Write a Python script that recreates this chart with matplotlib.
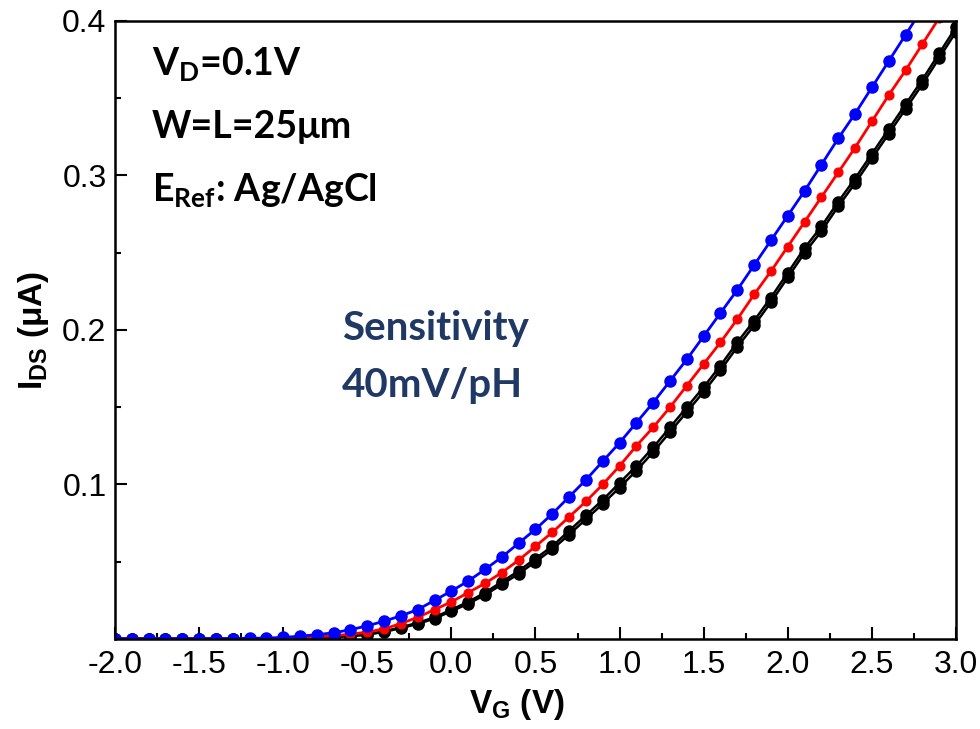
import matplotlib
matplotlib.use("Agg")
import matplotlib.pyplot as plt
import numpy as np

plt.rcParams['font.family'] = ['Liberation Sans', 'DejaVu Sans']
plt.rcParams['mathtext.fontset'] = 'custom'
plt.rcParams['mathtext.bf'] = 'Liberation Sans:bold'
plt.rcParams['mathtext.sf'] = 'Lato:bold'

# gate voltage, 0.1 V steps
vg = np.round(np.arange(-2.0, 3.01, 0.1), 2)

# drain current (uA)
i_blue = [0.0002] * 8 + [
    0.0004, 0.0006, 0.001, 0.0018, 0.0028, 0.004, 0.006, 0.0085, 0.0115, 0.015,
    0.019, 0.025, 0.031, 0.0375, 0.045, 0.053, 0.062, 0.071, 0.081, 0.092,
    0.103, 0.115, 0.127, 0.140, 0.153, 0.167, 0.181, 0.196, 0.211, 0.226,
    0.242, 0.258, 0.274, 0.290, 0.307, 0.324, 0.340, 0.357, 0.374, 0.391,
    0.408, 0.425, 0.442]
i_red = [0.0001] * 9 + [
    0.0003, 0.0005, 0.001, 0.0015, 0.0022, 0.003, 0.0045, 0.0065, 0.010, 0.014,
    0.019, 0.024, 0.030, 0.036, 0.043, 0.051, 0.060, 0.069, 0.079, 0.089,
    0.100, 0.112, 0.125, 0.137, 0.150, 0.164, 0.178, 0.192, 0.207, 0.223,
    0.238, 0.254, 0.270, 0.286, 0.302, 0.318, 0.335, 0.352, 0.368, 0.385,
    0.402, 0.419]
i_black1 = [0.0] * 10 + [
    0.0002, 0.0005, 0.001, 0.0015, 0.002, 0.003, 0.005, 0.0075, 0.0105, 0.014,
    0.019, 0.024, 0.030, 0.037, 0.044, 0.052, 0.060, 0.070, 0.080, 0.090,
    0.101, 0.112, 0.124, 0.137, 0.150, 0.163, 0.177, 0.192, 0.206, 0.221,
    0.237, 0.253, 0.267, 0.283, 0.298, 0.314, 0.330, 0.346, 0.362, 0.379,
    0.396]
i_black2 = [0.0] * 11 + [
    0.0003, 0.0008, 0.0013, 0.0018, 0.0028, 0.0046, 0.007, 0.0098, 0.0132, 0.018,
    0.0228, 0.0285, 0.0353, 0.0422, 0.050, 0.058, 0.0676, 0.0775, 0.0875, 0.098,
    0.109, 0.121, 0.134, 0.147, 0.160, 0.174, 0.189, 0.203, 0.218, 0.234,
    0.250, 0.264, 0.280, 0.295, 0.311, 0.327, 0.343, 0.359, 0.376, 0.393]

fig = plt.figure(figsize=(9.8, 7.29), dpi=100)
ax = fig.add_axes([0.1173, 0.1235, 0.8582, 0.8477])

ax.plot(vg, i_black2, color='black', lw=1.8, marker='o', ms=8)
ax.plot(vg, i_black1, color='black', lw=1.8, marker='o', ms=8)
ax.plot(vg, i_red, color='red', lw=2, marker='o', ms=6.3)
ax.plot(vg, i_blue, color='blue', lw=2, marker='o', ms=8)

ax.set_xlim(-2.0, 3.0)
ax.set_ylim(0, 0.4)
ax.set_xticks(np.arange(-2.0, 3.01, 0.5))
ax.set_xticks(np.arange(-2.0, 3.01, 0.25), minor=True)
ax.set_yticks([0.1, 0.2, 0.3, 0.4])
ax.set_yticks(np.arange(0.05, 0.41, 0.05), minor=True)
ax.set_xticklabels([f"{v:.1f}" for v in np.arange(-2.0, 3.01, 0.5)])
ax.set_yticklabels(["0.1", "0.2", "0.3", "0.4"])
ax.tick_params(which='major', direction='in', length=8.5, width=1.5, labelsize=23, pad=6)
ax.tick_params(which='minor', direction='in', length=4.3, width=1.5)
ax.tick_params(axis='x', pad=8)
for s in ax.spines.values():
    s.set_linewidth(1.8)

ax.set_xlabel(r'$\mathbf{V_G}$ (V)', fontsize=24, fontweight='bold')
ax.xaxis.set_label_coords(0.478, -0.078, transform=ax.transAxes)
ax.xaxis.label.set_va('top')
ax.set_ylabel(r'$\mathbf{I_{DS}}$ (μA)', fontsize=24, fontweight='bold', labelpad=8)

tkw = dict(transform=ax.transAxes, fontsize=27, fontweight='bold', family='Lato')
ax.text(0.044, 0.913, r'$\mathsf{V_D}$=0.1V', **tkw)
ax.text(0.044, 0.810, 'W=L=25μm', **tkw)
ax.text(0.044, 0.709, r'$\mathsf{E_{Ref}}$: Ag/AgCl', **tkw)

skw = dict(transform=ax.transAxes, fontsize=29, fontweight='bold', family='Lato', color='#1f3864')
ax.text(0.27, 0.484, 'Sensitivity', **skw)
ax.text(0.27, 0.392, '40mV/pH', **skw)

fig.savefig('out.png', dpi=100)
